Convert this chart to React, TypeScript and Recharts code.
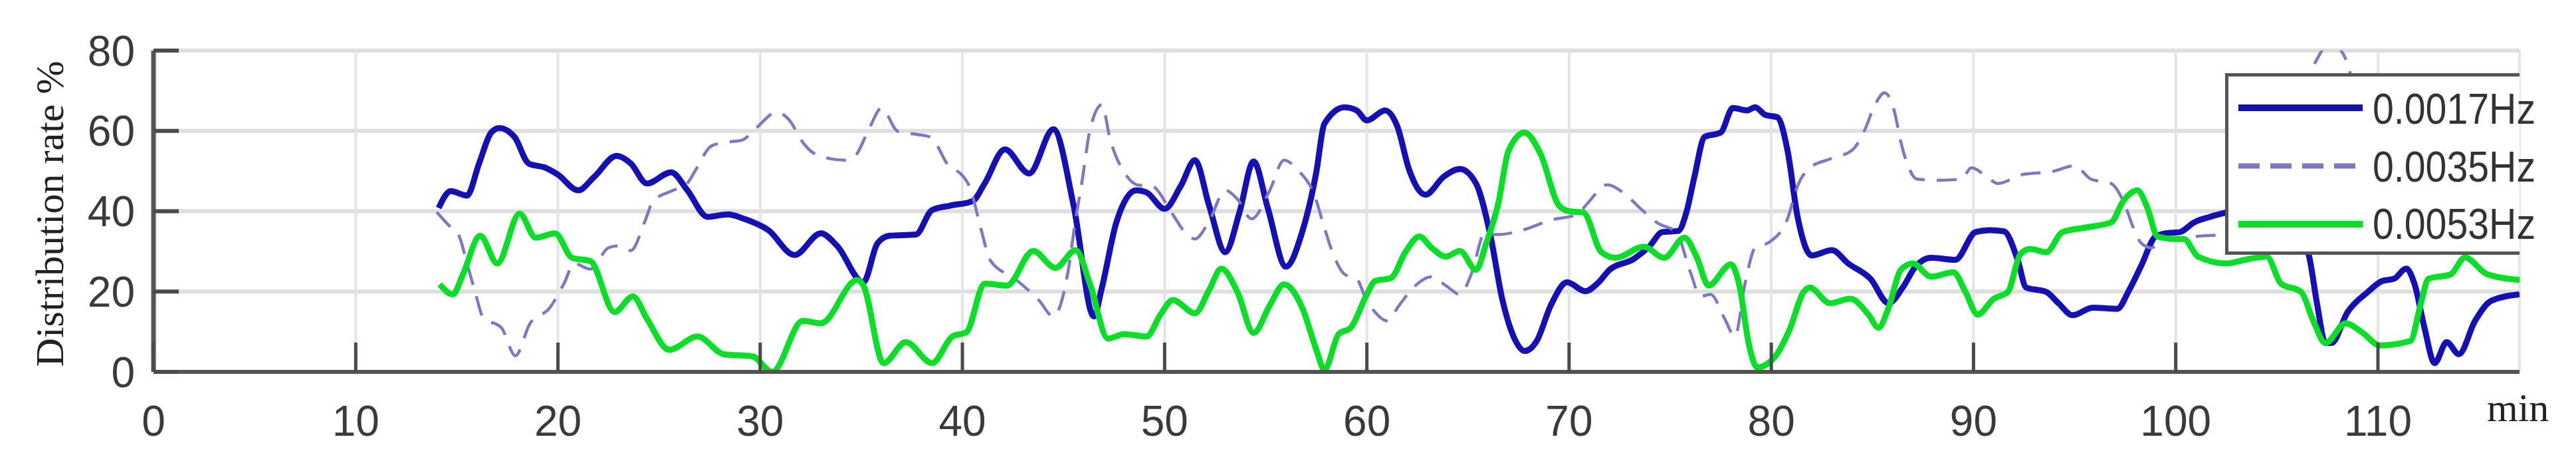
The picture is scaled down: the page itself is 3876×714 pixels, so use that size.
import { LineChart, Line, XAxis, YAxis, CartesianGrid, Legend, Label } from 'recharts'

// [minute, distribution rate %]
const RATE_0017: [number, number][] = [
  [14.1, 40.8], [14.7, 45], [15.5, 43.9], [16.1, 51.9], [16.7, 59.6], [17.1, 60.7], [17.85, 58.5],
  [18.55, 51.9], [19.4, 50.8], [20.0, 49.1], [21.0, 45.2], [21.8, 48.6], [22.9, 53.8], [23.6, 51.9],
  [24.4, 46.9], [25.6, 49.7], [26.4, 45.2], [27.4, 38.6], [28.4, 39.2], [29.2, 38.1], [30.4, 35.3],
  [31.7, 29.1], [33.0, 34.5], [33.8, 31.4], [35.1, 22.3], [35.8, 32], [36.4, 33.9], [37.7, 34.2],
  [38.5, 40.3], [39.4, 41.4], [40.5, 42.5], [41.1, 46.9], [42.1, 55.4], [43.3, 49.4], [44.5, 60.4],
  [45.5, 41.4], [46.5, 13.8], [46.9, 21], [47.6, 37], [48.6, 45.2], [49.1, 44.7], [50.0, 40.6],
  [50.8, 46.3], [51.5, 52.7], [52.2, 41.4], [53.0, 29.8], [53.7, 39.7], [54.4, 52.4], [55.1, 40.8],
  [56.0, 26.2], [56.8, 34.8], [57.5, 49.7], [57.9, 61.8], [58.9, 65.9], [59.5, 65.1], [60.0, 62.6],
  [60.9, 65.1], [61.5, 61.2], [62.1, 50.2], [62.9, 44.1], [63.8, 48.6], [64.6, 50.5], [65.4, 46.9],
  [66.1, 34.2], [66.7, 18], [67.3, 8.3], [67.8, 5.2], [68.4, 7.7], [69.1, 16.6], [69.9, 22.3],
  [70.8, 20.1], [71.4, 22], [72.0, 25.4], [73.2, 28.1], [74.0, 31.4], [74.6, 34.8], [75.4, 35.1],
  [75.8, 39.7], [76.2, 48.6], [76.7, 58.5], [77.5, 59.6], [78.1, 65.7], [78.8, 65.1], [79.2, 65.9],
  [79.7, 64], [80.3, 63.4], [80.8, 55.2], [81.3, 38.6], [82.0, 29], [83.0, 30.3], [83.8, 27],
  [84.9, 23.2], [85.8, 17.1], [86.5, 21], [87.1, 26], [87.9, 28.4], [89.1, 27.9], [90.1, 34.8],
  [90.8, 35.3], [91.5, 35], [92.2, 27.6], [92.6, 21], [93.6, 19.9], [94.2, 17.1], [94.9, 14.1],
  [95.9, 16], [97.1, 15.7], [97.7, 20.4], [98.3, 26.5], [99.0, 33.7], [99.5, 34.5], [100.2, 34.8],
  [100.9, 37.2], [101.7, 38.6], [102.5, 39.7], [103.5, 41], [104.5, 40.5], [105.5, 38.5], [106.2, 34],
  [106.6, 28.7], [107.0, 16.6], [107.4, 7.2], [107.7, 7.2], [108.5, 14.9], [109.5, 19.9], [110.2, 22.6],
  [110.8, 23.2], [111.4, 25.7], [111.8, 22], [112.3, 11], [112.8, 2.2], [113.4, 7.4], [114.0, 4.4],
  [114.8, 12.7], [115.6, 17.7], [117.0, 19.3],
]

const RATE_0035: [number, number][] = [
  [14.0, 39.8], [14.6, 36.5], [15.1, 34], [15.5, 27], [15.9, 20], [16.3, 13.5], [17.2, 11], [17.9, 4],
  [18.6, 11.9], [19.6, 16], [20.3, 22], [20.8, 27], [21.6, 25.6], [22.5, 30.9], [23.0, 31.4],
  [23.6, 30.2], [24.3, 37.5], [24.7, 42.5], [25.6, 45], [26.4, 47], [26.8, 50.2], [27.6, 56.3],
  [28.4, 57.2], [29.1, 57.7], [29.8, 60.7], [30.8, 64.6], [31.5, 62.3], [32.0, 57.9], [32.9, 53.8],
  [34.2, 52.7], [34.7, 53.8], [35.4, 60.7], [36.0, 65.7], [36.8, 59.9], [37.5, 59.3], [38.4, 58.5],
  [39.4, 50.8], [39.9, 49.4], [40.4, 45.5], [40.9, 35.9], [41.4, 27.6], [42.6, 23.2], [43.8, 17.7],
  [44.5, 13.8], [45.2, 24.3], [45.6, 38], [45.9, 46.9], [46.3, 60], [46.9, 66.5], [47.3, 58],
  [48.0, 49.7], [48.7, 46.5], [49.35, 46.3], [50.4, 39.2], [51.0, 34.8], [51.5, 33.1], [52.2, 37.5],
  [53.0, 45.2], [53.6, 43], [54.3, 38.1], [55.2, 45.2], [55.9, 52.7], [56.6, 50.2], [57.4, 44.1],
  [57.9, 35.9], [58.3, 29.8], [58.9, 24.3], [59.5, 23.2], [59.9, 18.8], [60.4, 14.9], [61.0, 12.7],
  [61.6, 16.6], [62.3, 21], [63.2, 23.7], [63.9, 21.5], [64.6, 19.3], [65.2, 24.8], [65.8, 34.2],
  [66.5, 34.2], [67.7, 35.3], [69.1, 37.8], [70.4, 39.2], [70.9, 41.9], [71.9, 46.6], [72.8, 44.1],
  [73.5, 40.8], [74.4, 37], [75.3, 34.8], [76.0, 24.8], [76.5, 18.8], [77.0, 19.3], [77.7, 13.2],
  [78.2, 8.8], [78.7, 22], [79.2, 30.9], [79.9, 32.3], [80.8, 38.1], [81.3, 46.3], [81.9, 50.8],
  [82.9, 53], [84.0, 55.2], [84.6, 60], [85.1, 66.2], [85.6, 69.5], [86.1, 64.6], [86.4, 57.4],
  [86.8, 50.8], [87.2, 48], [88.3, 47.7], [89.4, 48], [89.9, 50.8], [90.8, 48], [91.2, 46.9],
  [92.4, 49.1], [93.9, 49.9], [95.0, 51.3], [95.8, 48], [96.8, 46.9], [97.5, 41.4], [97.9, 35.9],
  [98.3, 32], [98.8, 30.9], [99.5, 33.1], [100.4, 33.1], [101.0, 33.7], [102.3, 34.2], [103.5, 40],
  [104.8, 52], [106.0, 66], [107.0, 78], [107.6, 82], [108.3, 79], [109.0, 68], [110.0, 55],
  [111.5, 46], [113.0, 42], [115.0, 39], [117.0, 37],
]

const RATE_0053: [number, number][] = [
  [14.15, 21.8], [14.8, 19.3], [15.3, 24.3], [16.15, 33.9], [17.0, 27], [18.1, 39.4], [18.9, 33.4],
  [19.85, 34.5], [20.7, 28.4], [21.6, 27.6], [22.8, 14.9], [23.7, 18.8], [24.4, 13.2], [25.5, 5.5],
  [26.9, 8.8], [28.2, 4.4], [29.6, 3.9], [30.6, 0], [32.1, 12.7], [33.0, 12.1], [34.8, 22.9],
  [35.1, 21.5], [36.1, 2.2], [37.2, 7.4], [38.5, 2.2], [39.5, 8.8], [40.2, 9.9], [41.1, 22],
  [42.2, 21.5], [43.5, 30.1], [44.6, 25.9], [45.6, 30.3], [46.3, 22], [47.2, 8.3], [48.0, 9.4],
  [49.1, 8.8], [49.8, 14.3], [50.4, 17.9], [51.5, 14.6], [52.2, 20.4], [52.8, 25.7], [53.6, 19.9],
  [54.4, 9.7], [55.2, 16.6], [55.9, 21.8], [56.8, 16], [57.5, 5.5], [57.9, 0.5], [58.6, 9.4],
  [59.2, 11], [60.0, 19.3], [60.4, 22.6], [61.2, 23.4], [61.9, 29.8], [62.6, 33.7], [63.2, 30.9],
  [63.9, 28.7], [64.6, 30.1], [65.4, 25.4], [65.9, 32], [66.5, 42], [67.0, 55], [67.8, 59.6],
  [68.6, 54.1], [69.5, 41.4], [70.0, 40], [70.7, 39.7], [71.6, 29.8], [72.3, 28.4], [73.7, 31.2],
  [74.7, 28.4], [75.7, 33.4], [76.3, 28.7], [76.9, 21.5], [78.0, 26.8], [78.4, 22], [78.9, 6.6],
  [79.3, 1.1], [80.2, 3.9], [80.9, 10.5], [81.6, 19.9], [81.9, 21], [82.9, 17.1], [83.9, 18.2],
  [84.8, 14.3], [85.3, 11], [85.8, 16], [86.4, 25.4], [87.0, 27], [87.9, 23.7], [89.0, 24.8],
  [89.6, 19.9], [90.2, 14.3], [91.0, 18.2], [91.7, 19.9], [92.3, 29.2], [92.8, 30.6], [93.6, 29.8],
  [94.4, 34.8], [95.5, 35.9], [96.8, 37.2], [97.4, 42.5], [98.1, 45.2], [98.6, 40.8], [99.1, 33.7],
  [99.9, 33.1], [100.4, 33.1], [101.1, 28.7], [102.5, 27], [103.5, 28], [104.5, 28.7], [105.2, 22],
  [106.2, 19.9], [106.8, 12.7], [107.4, 7.2], [108.4, 12.1], [109.2, 9.9], [110.1, 6.6], [111.6, 7.7],
  [112.1, 16.6], [112.5, 23.2], [113.6, 24.3], [114.3, 28.5], [115.4, 24.3], [117.0, 22.9],
]

const X_TICKS = [0, 10, 20, 30, 40, 50, 60, 70, 80, 90, 100, 110]
const Y_TICKS = [0, 20, 40, 60, 80]

const SERIES = [
  { name: '0.0017Hz', points: RATE_0017, color: '#1410b4', width: 9, dash: undefined as string | undefined },
  { name: '0.0035Hz', points: RATE_0035, color: '#7a7ac4', width: 4.5, dash: '30 18' },
  { name: '0.0053Hz', points: RATE_0053, color: '#0ade28', width: 9, dash: undefined as string | undefined },
]

const toRows = (points: [number, number][]) => points.map(([t, v]) => ({ t, v }))

const SANS = '"Liberation Sans", Arial, sans-serif'
const SERIF = '"Liberation Serif", "Times New Roman", serif'
const X_GAP = 51
const Y_GAP = 28

const XTick = ({ x, y, payload }: any) => (
  <g>
    <line x1={x} x2={x} y1={y - X_GAP} y2={y - X_GAP - 44} stroke="#4a4a4a" strokeWidth={5} />
    <text x={x} y={y} dy="0.71em" textAnchor="middle" fontFamily={SANS} fontSize={64} fill="#3a3a3a">
      {payload.value}
    </text>
  </g>
)

const YTick = ({ x, y, payload }: any) => (
  <g>
    <line x1={x + Y_GAP} x2={x + Y_GAP + 38} y1={y} y2={y} stroke="#4a4a4a" strokeWidth={6} />
    <text x={x} y={y} dy="0.355em" textAnchor="end" fontFamily={SANS} fontSize={64} fill="#3a3a3a">
      {payload.value}
    </text>
  </g>
)

const BoxLegend = () => (
  <svg width={500} height={280} style={{ overflow: 'visible', display: 'block' }}>
    <rect x={0} y={0} width={443} height={273} fill="#fff" />
    <path d="M443,2.5 H2.5 V270.5 H443" fill="none" stroke="#555" strokeWidth={5} />
    {SERIES.map((s, i) => (
      <g key={s.name}>
        <line
          x1={20}
          x2={207}
          y1={52 + i * 87.5}
          y2={52 + i * 87.5}
          stroke={s.color}
          strokeWidth={s.dash ? 8 : 10}
          strokeDasharray={s.dash ? '32 16' : undefined}
        />
        <text
          x={222}
          y={76 + i * 86.5}
          fontFamily={SANS}
          fontSize={64}
          fill="#333"
          textLength={245}
          lengthAdjust="spacingAndGlyphs"
        >
          {s.name}
        </text>
      </g>
    ))}
  </svg>
)

export default function App() {
  return (
    <LineChart width={3860} height={698} margin={{ top: 68, right: 77, bottom: 0, left: 0 }}>
      <CartesianGrid horizontal vertical={false} stroke="#dedede" strokeWidth={6} />
      <CartesianGrid horizontal={false} vertical stroke="#e4e4e4" strokeWidth={4} />
      {SERIES.map((s) => (
        <Line
          key={s.name}
          name={s.name}
          data={toRows(s.points)}
          dataKey="v"
          type="monotone"
          stroke={s.color}
          strokeWidth={s.width}
          strokeDasharray={s.dash}
          strokeLinejoin="round"
          dot={false}
          activeDot={false}
          isAnimationActive={false}
        />
      ))}
      <XAxis
        dataKey="t"
        type="number"
        domain={[0, 117]}
        ticks={X_TICKS}
        interval={0}
        height={147}
        tickSize={0}
        tickMargin={X_GAP}
        tick={<XTick />}
        axisLine={{ stroke: '#555', strokeWidth: 6 }}
        allowDataOverflow
      >
        <Label
          content={({ viewBox }: any) => (
            <text
              x={viewBox.x + viewBox.width - 49}
              y={viewBox.y + 74}
              fontFamily={SERIF}
              fontSize={60}
              fill="#222"
            >
              min
            </text>
          )}
        />
      </XAxis>
      <YAxis
        type="number"
        domain={[0, 80]}
        ticks={Y_TICKS}
        interval={0}
        width={223}
        tickSize={0}
        tickMargin={Y_GAP}
        tick={<YTick />}
        axisLine={{ stroke: '#555', strokeWidth: 7 }}
        allowDataOverflow
      >
        <Label
          content={({ viewBox }: any) => {
            const cx = viewBox.x + 87
            const cy = viewBox.y + viewBox.height / 2 + 4
            return (
              <text
                x={cx}
                y={cy}
                transform={`rotate(-90 ${cx} ${cy})`}
                textAnchor="middle"
                fontFamily={SERIF}
                fontSize={60}
                fill="#222"
              >
                Distribution rate %
              </text>
            )
          }}
        />
      </YAxis>
      <Legend
        layout="horizontal"
        verticalAlign="middle"
        align="center"
        content={() => <BoxLegend />}
        wrapperStyle={{ left: 3340, top: 102, width: 500, height: 280 }}
      />
    </LineChart>
  )
}
